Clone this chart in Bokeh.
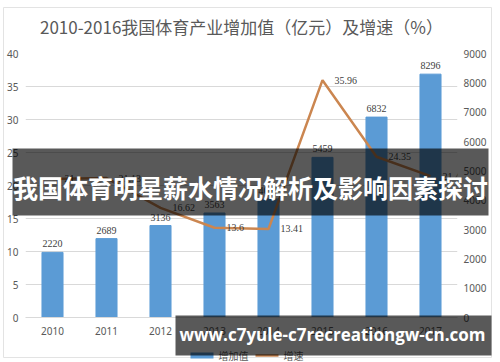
from bokeh.plotting import figure
from bokeh.models import Range1d, LinearAxis, FixedTicker, ColumnDataSource, LabelSet
from bokeh.core.properties import value
from bokeh.embed import file_html
from bokeh.resources import INLINE

# ---- data ----
years = ["2010", "2011", "2012", "2013", "2014", "2015", "2016", "2017"]
value_added = [2220, 2689, 3136, 3563, 4041, 5459, 6832, 8296]   # 亿元 (right axis)
growth_years = ["2010", "2011", "2012", "2013", "2014", "2015", "2016", "2017"]
growth = [21.0, 21.13, 16.62, 13.6, 13.41, 35.96, 24.35, 21.43]  # % (left axis)
left_ticks = [0, 5, 10, 15, 20, 25, 30, 35, 40]
right_ticks = [0, 1000, 2000, 3000, 4000, 5000, 6000, 7000, 8000, 9000]
legend_labels = ["增加值", "增速"]

title_text = "2010-2016我国体育产业增加值（亿元）及增速（%）"
banner_text = "我国体育明星薪水情况解析及影响因素探讨"
watermark_text = "www.c7yule-c7recreationgw-cn.com"

BAR = "#5B9BD5"
LINE = "#CB8650"
GRID = "#D9D9D9"
TXT = "#595959"
NUM_FONT = "Noto Sans"
CJK_FONT = "Noto Sans CJK SC"

W, H = 500, 362
FL, FR, FT, FB = 25, 457, 53, 317          # frame edges in pixels
p = figure(width=W, height=H, x_range=years, y_range=Range1d(0, 40),
           output_backend="svg", toolbar_location=None,
           min_border_left=FL, min_border_right=W - FR, min_border_top=FT, min_border_bottom=H - FB)
p.extra_y_ranges = {"right": Range1d(0, 9000)}
p.outline_line_color = None
p.background_fill_color = "white"
p.border_fill_color = "white"

# pixel -> data helpers for the decorative overlays (not data marks)
def px_x(x):
    return (x - FL) / ((FR - FL) / len(years))

def px_y(y):
    return (FB - y) / ((FB - FT) / 40.0)

bar_src = ColumnDataSource(dict(x=years, v=value_added, lbl=[str(v) for v in value_added]))
line_src = ColumnDataSource(dict(x=growth_years, g=growth, lbl=[f"{g:g}" for g in growth]))

bars = p.vbar(x="x", top="v", width=0.39, source=bar_src, color=BAR, y_range_name="right")
line = p.line(x="x", y="g", source=line_src, line_color=LINE, line_width=2.5)

p.add_layout(LabelSet(x="x", y="v", text="lbl", source=bar_src, y_range_name="right",
                      text_align="center", text_baseline="bottom", y_offset=5,
                      text_font=NUM_FONT, text_font_size="10px", text_color="#404040"))
p.add_layout(LabelSet(x="x", y="g", text="lbl", source=line_src,
                      text_align="left", text_baseline="middle", x_offset=12,
                      text_font=NUM_FONT, text_font_size="10px", text_color="#404040"))

# axes
p.yaxis.ticker = FixedTicker(ticks=left_ticks)
p.yaxis.major_label_standoff = 7

rax = LinearAxis(y_range_name="right", ticker=FixedTicker(ticks=right_ticks))
rax.major_label_standoff = 6
p.add_layout(rax, "right")

for ax in (p.yaxis[0], rax, p.xaxis[0]):
    ax.axis_line_color = None
    ax.major_tick_line_color = None
    ax.minor_tick_line_color = None
    ax.major_tick_out = 0
    ax.major_tick_in = 0
    ax.minor_tick_out = 0
    ax.major_label_text_font = NUM_FONT
    ax.major_label_text_font_size = "10px"
    ax.major_label_text_color = TXT

p.xaxis.axis_line_color = GRID
p.xaxis.major_label_standoff = 9

p.xgrid.grid_line_color = None
p.ygrid.grid_line_color = GRID
p.ygrid.ticker = FixedTicker(ticks=left_ticks)

# chart-area border
p.quad(left=[px_x(3)], right=[px_x(491)], top=[px_y(7)], bottom=[px_y(357)],
       fill_color=None, line_color="#E3E3E3", line_width=1, level="overlay")

# legend, drawn as overlay marks below the axis (mostly hidden under the watermark)
LY = 355
p.quad(left=[px_x(190)], right=[px_x(213)], top=[px_y(LY - 3)], bottom=[px_y(LY + 3)],
       fill_color=BAR, line_color=None, level="overlay")
p.text(x=[px_x(218)], y=[px_y(LY)], text=[legend_labels[0]], level="overlay",
       text_align="left", text_baseline="middle", text_font=value(CJK_FONT),
       text_font_size="10px", text_color=TXT)
p.line(x=[px_x(255), px_x(278)], y=[px_y(LY), px_y(LY)], line_color=LINE, line_width=2.5,
       level="overlay")
p.text(x=[px_x(283)], y=[px_y(LY)], text=[legend_labels[1]], level="overlay",
       text_align="left", text_baseline="middle", text_font=value(CJK_FONT),
       text_font_size="10px", text_color=TXT)

# chart title
p.text(x=[px_x(241)], y=[px_y(26)], text=[title_text], level="overlay",
       text_align="center", text_baseline="middle", text_font=value(CJK_FONT),
       text_font_size="17px", text_color=TXT)

# overlay banner
p.quad(left=[px_x(12)], right=[px_x(488)], top=[px_y(148)], bottom=[px_y(215)],
       fill_color="black", fill_alpha=0.65, line_color=None, level="overlay")
p.text(x=[px_x(250)], y=[px_y(186)], text=[banner_text], level="overlay",
       text_align="center", text_baseline="middle", text_font=value(CJK_FONT),
       text_font_style="bold", text_font_size="25px", text_color="white")

# watermark
p.quad(left=[px_x(175)], right=[px_x(491)], top=[px_y(315)], bottom=[px_y(355)],
       fill_color="black", fill_alpha=0.65, line_color=None, level="overlay")
p.text(x=[px_x(332)], y=[px_y(334)], text=[watermark_text], level="overlay",
       text_align="center", text_baseline="middle", text_font=value("Open Sans"),
       text_font_style="bold", text_font_size="17px", text_color="white")

open("out.html", "w").write(file_html(p, INLINE))
